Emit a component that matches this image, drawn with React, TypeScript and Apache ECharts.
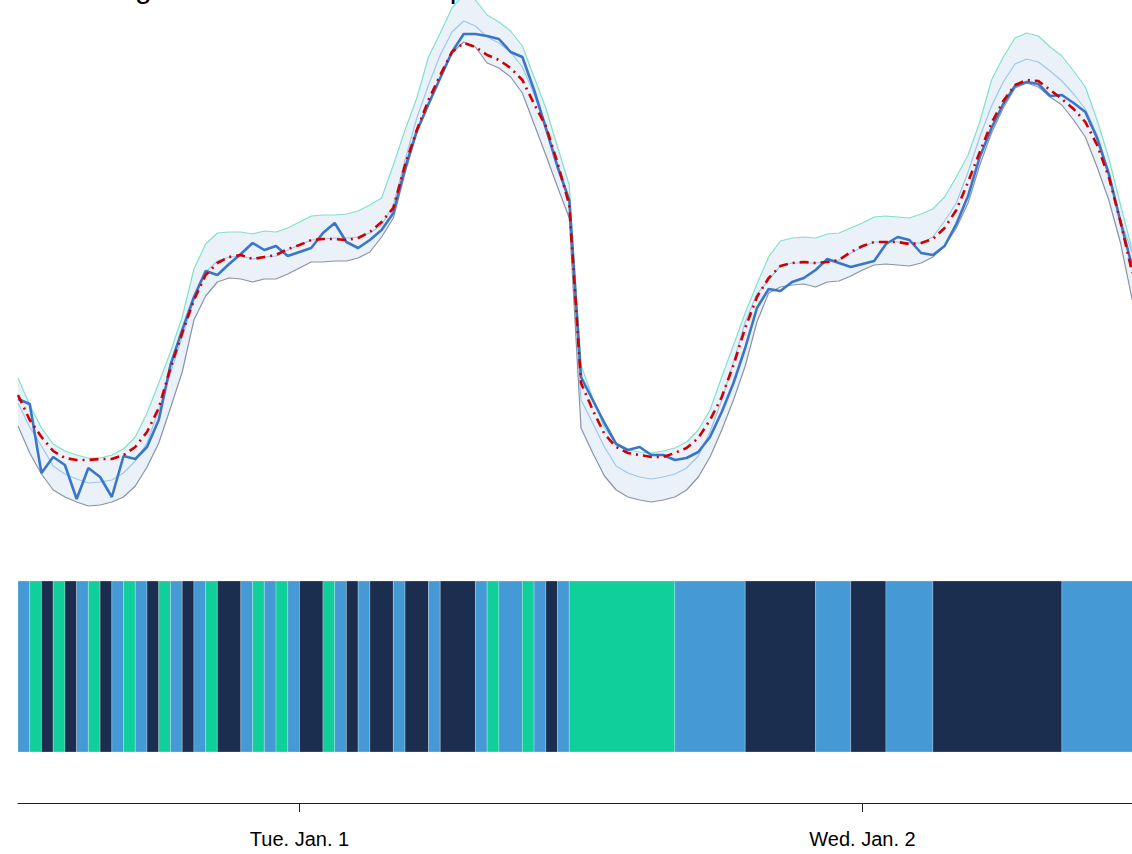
import React, { useEffect, useRef } from "react";
import * as echarts from "echarts";

const FONT = '"Liberation Sans", Arial, Helvetica, sans-serif';

// half-hourly samples starting Mon. Dec. 31, 12:00 (hours relative to Jan. 1 00:00)
const startHour = -12;
const stepHours = 0.5;

const upperBand = [142, 115, 92, 76, 69, 65, 62, 62, 65, 71, 83, 107, 137, 168, 203, 251, 276, 287, 288, 288, 286, 289, 288, 292, 298, 304, 305, 305, 306, 309, 315, 322, 355, 390, 422, 463, 487, 512, 525, 520, 505, 498, 489, 474, 443, 412, 373, 335, 155, 122, 92, 77, 70, 68, 67, 69, 72, 78, 90, 110, 143, 175, 207, 236, 263, 279, 282, 283, 282, 286, 287, 292, 297, 303, 304, 303, 302, 306, 311, 323, 343, 365, 398, 440, 463, 482, 487, 484, 473, 464, 449, 433, 400, 362, 315, 270];
const centerLine = [117, 93, 74, 54, 46, 41, 37, 38, 40, 47, 59, 77, 110, 147, 183, 220, 248, 259, 263, 264, 261, 263, 264, 270, 275, 280, 281, 282, 282, 283, 287, 295, 315, 360, 402, 435, 465, 488, 499, 494, 483, 477, 468, 453, 426, 395, 357, 320, 120, 97, 73, 54, 47, 43, 41, 43, 46, 52, 64, 88, 120, 158, 198, 226, 240, 254, 257, 257, 257, 258, 260, 267, 273, 278, 278, 278, 277, 277, 283, 299, 317, 348, 383, 414, 438, 456, 461, 458, 449, 439, 426, 411, 385, 348, 300, 267];
const forecast = [125, 100, 83, 69, 62, 60, 60, 61, 61, 65, 73, 88, 112, 152, 187, 220, 245, 257, 263, 265, 261, 263, 265, 271, 275, 280, 281, 281, 280, 282, 288, 298, 312, 355, 390, 420, 445, 468, 477, 473, 465, 460, 452, 440, 416, 394, 357, 315, 137, 110, 86, 73, 67, 65, 63, 63, 67, 72, 82, 100, 123, 155, 192, 223, 242, 254, 257, 258, 257, 258, 260, 268, 274, 278, 278, 278, 276, 277, 281, 292, 310, 338, 368, 397, 419, 435, 440, 439, 430, 421, 411, 398, 375, 343, 298, 247];
const actual = [121, 116, 47, 63, 55, 21, 52, 43, 23, 64, 61, 73, 100, 155, 190, 223, 249, 245, 256, 266, 277, 270, 274, 264, 268, 272, 287, 297, 278, 272, 280, 290, 307, 352, 389, 416, 442, 468, 486, 486, 484, 481, 468, 463, 430, 392, 353, 320, 143, 120, 97, 76, 70, 73, 65, 65, 60, 62, 68, 83, 108, 137, 172, 212, 231, 229, 238, 242, 250, 261, 257, 253, 256, 259, 276, 283, 280, 267, 265, 274, 296, 324, 363, 392, 416, 434, 438, 436, 424, 425, 417, 408, 382, 346, 298, 253];
const lowerBand = [94, 67, 46, 30, 23, 18, 14, 15, 18, 23, 34, 53, 77, 112, 148, 200, 224, 238, 242, 241, 238, 241, 241, 246, 252, 258, 258, 259, 259, 262, 268, 283, 302, 347, 387, 415, 442, 467, 478, 473, 457, 452, 443, 427, 396, 365, 333, 302, 92, 67, 44, 30, 23, 20, 18, 20, 23, 30, 43, 63, 90, 120, 154, 198, 227, 233, 235, 236, 233, 238, 239, 244, 250, 255, 256, 255, 254, 257, 263, 274, 292, 317, 355, 387, 412, 432, 437, 433, 423, 415, 400, 383, 353, 320, 277, 220];

// regime per half-hour slot: 0 = blue, 1 = green, 2 = navy
const regime = [
  0, 1, 2, 1, 2, 0, 1, 2, 0, 1, 0, 2, 1, 0, 2, 0, 1, 2, 2, 0, 1, 0, 1, 0, 2, 2, 1, 0, 2, 0, 2, 2, 0, 2, 2, 0, 2, 2, 2, 0, 1, 0, 0, 1, 0, 2, 0,
  1, 1, 1, 1, 1, 1, 1, 1, 1,
  0, 0, 0, 0, 0, 0,
  2, 2, 2, 2, 2, 2,
  0, 0, 0,
  2, 2, 2,
  0, 0, 0, 0,
  2, 2, 2, 2, 2, 2, 2, 2, 2, 2, 2,
  0, 0, 0, 0, 0, 0, 0,
];
const regimeColors = ["#4599d4", "#10cf9b", "#1b2e4f"];

const tickHours = [0, 24];
const tickLabels = ["Tue. Jan. 1", "Wed. Jan. 2"];

const titleText = "Forecasting Intervals for Test Sample";

export default function App() {
  const ref = useRef<HTMLDivElement>(null);
  useEffect(() => {
    if (!ref.current) return;
    const chart = echarts.init(ref.current, null, { renderer: "svg" });
    const hours = upperBand.map((_, i) => startHour + i * stepHours);
    const pair = (arr: number[]) => arr.map((v, i) => [hours[i], v]);

    // merge consecutive equal regimes into runs [start, end, code]
    const runs: number[][] = [];
    regime.forEach((c, i) => {
      const s = startHour + i * stepHours;
      const e = s + stepHours;
      const last = runs[runs.length - 1];
      if (last && last[2] === c) last[1] = e;
      else runs.push([s, e, c]);
    });

    const lineBase = { type: "line", symbol: "none", xAxisIndex: 0, yAxisIndex: 0, silent: true };
    const option: any = {
      animation: false,
      backgroundColor: "#fff",
      title: {
        text: titleText,
        left: -10,
        top: 27,
        textStyle: { fontFamily: FONT, fontSize: 30, fontWeight: "normal", color: "#000" },
      },
      grid: [
        { left: 18, right: 16, top: 8, height: 572 },
        { left: 18, right: 16, top: 641, height: 171 },
      ],
      xAxis: [
        { type: "value", gridIndex: 0, min: -12, max: 36, show: false },
        {
          type: "value",
          gridIndex: 1,
          min: -12,
          max: 36,
          position: "bottom",
          offset: 51,
          splitLine: { show: false },
          axisLine: { show: true, onZero: false, lineStyle: { color: "#222", width: 1 } },
          axisTick: { show: true, customValues: tickHours, length: 9, lineStyle: { color: "#222", width: 1 } },
          axisLabel: {
            customValues: tickHours,
            formatter: (v: number) => {
              const k = tickHours.indexOf(v);
              return k >= 0 ? tickLabels[k] : "";
            },
            fontFamily: FONT,
            fontSize: 20,
            color: "#000",
            margin: 26,
          },
        },
      ],
      yAxis: [
        { type: "value", gridIndex: 0, min: 0, max: 572, show: false },
        { type: "value", gridIndex: 1, min: 0, max: 1, show: false },
      ],
      series: [
        {
          type: "custom",
          name: "band",
          xAxisIndex: 0,
          yAxisIndex: 0,
          silent: true,
          data: [[0]],
          renderItem: (params: any, api: any) => {
            const pts: number[][] = [];
            for (let i = 0; i < upperBand.length; i++) pts.push(api.coord([hours[i], upperBand[i]]));
            for (let i = lowerBand.length - 1; i >= 0; i--) pts.push(api.coord([hours[i], lowerBand[i]]));
            return {
              type: "polygon",
              shape: { points: pts },
              style: { fill: "rgba(80,140,205,0.12)", stroke: "none" },
            };
          },
        },
        { ...lineBase, name: "upper", data: pair(upperBand), lineStyle: { color: "#7fe2c8", width: 1.2 } },
        { ...lineBase, name: "center", data: pair(centerLine), lineStyle: { color: "#9cc8ec", width: 1.2 } },
        { ...lineBase, name: "lower", data: pair(lowerBand), lineStyle: { color: "#8a93a6", width: 1.2 } },
        { ...lineBase, name: "actual", data: pair(actual), lineStyle: { color: "#3a76c8", width: 2.6 } },
        {
          ...lineBase,
          name: "forecast",
          data: pair(forecast),
          lineStyle: { color: "#d00000", width: 2.6, type: [9, 5, 2, 5] },
        },
        {
          type: "custom",
          name: "regime",
          xAxisIndex: 1,
          yAxisIndex: 1,
          silent: true,
          data: runs,
          renderItem: (params: any, api: any) => {
            const s = api.coord([api.value(0), 1]);
            const e = api.coord([api.value(1), 0]);
            return {
              type: "rect",
              shape: { x: s[0], y: s[1], width: e[0] - s[0], height: e[1] - s[1] },
              style: { fill: regimeColors[api.value(2)], stroke: "rgba(255,255,255,0.3)", lineWidth: 0.8 },
            };
          },
        },
      ],
    };
    chart.setOption(option);
    return () => chart.dispose();
  }, []);
  return (
    <div
      style={{
        position: "fixed",
        left: 0,
        top: 0,
        width: 1132,
        height: 854,
        overflow: "hidden",
        background: "#fff",
      }}
    >
      <div ref={ref} style={{ position: "absolute", left: 0, top: -60, width: 1160, height: 914 }} />
    </div>
  );
}
